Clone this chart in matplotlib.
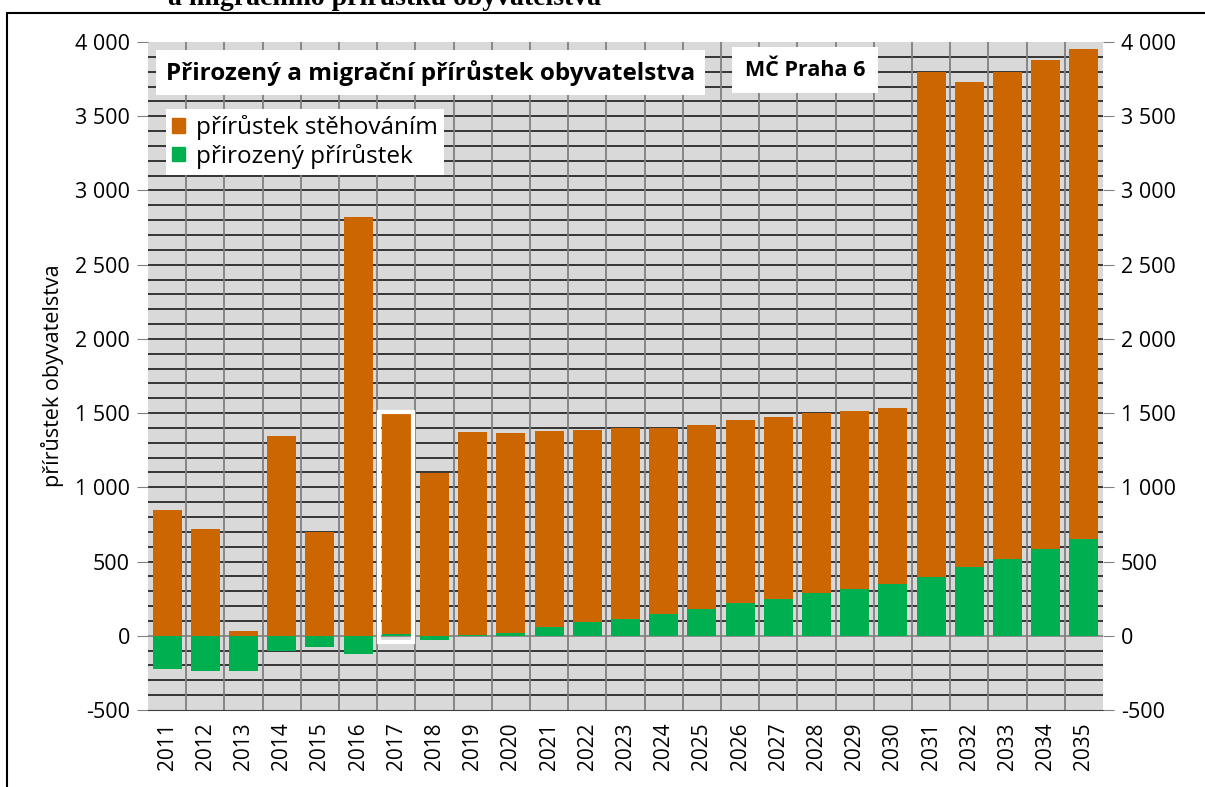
#!/usr/bin/env python3
import matplotlib
matplotlib.use('Agg')
import matplotlib.pyplot as plt
from matplotlib.patches import Rectangle, Patch
import numpy as np

years = [str(y) for y in range(2011, 2036)]
# natural increase (green)
natural = [-225, -234, -234, -101, -76, -123, 10, -30, 3, 22, 59, 92, 115, 150, 182,
           218, 249, 285, 317, 352, 393, 460, 517, 584, 652]
# migration increase (orange)
migration = [849, 719, 34, 1348, 697, 2823, 1495, 1097, 1367, 1344, 1322, 1296, 1283, 1252, 1238,
             1237, 1226, 1213, 1198, 1183, 3403, 3268, 3281, 3295, 3301]

orange = '#CC6600'
green = '#00B050'
font = ['Open Sans', 'DejaVu Sans']
plt.rcParams['font.family'] = font

fig = plt.figure(figsize=(12.05, 7.87), dpi=100)
ax = fig.add_axes([148/1205, 1-710/787, 955/1205, 668/787])
ax.set_facecolor('#D9D9D9')

x = np.arange(len(years))
nat = np.array(natural)
mig = np.array(migration)
w = 0.76
ax.bar(x, nat, width=w, color=green, zorder=3)
ax.bar(x, mig, width=w, bottom=np.maximum(nat, 0), color=orange, zorder=3)
# selected bar 2017 outline
i17 = years.index('2017')
ax.bar(x[i17], mig[i17] + nat[i17] + 45, width=w + 0.12, bottom=-40, fill=False,
       edgecolor='white', linewidth=3, zorder=4)

ax.set_xlim(-0.5, len(years) - 0.5)
ax.set_ylim(-500, 4000)

# grid
for v in range(-400, 4000, 100):
    ax.axhline(v, color='#7F7F7F' if v == 0 else '#1A1A1A', lw=1.2, zorder=1)
for b in np.arange(0.5, len(years) - 0.5, 1):
    ax.axvline(b, color='#808080', lw=1.3, zorder=1.5)

ticks = list(range(-500, 4001, 500))
labels = ['{:,}'.format(t).replace(',', ' ') for t in ticks]
ax.set_yticks(ticks)
ax.set_yticklabels(labels, fontsize=15.5)
ax.tick_params(axis='y', length=8, color='#808080', pad=5)
ax.set_xticks(x)
ax.set_xticklabels(years, rotation=90, fontsize=15)
ax.tick_params(axis='x', length=0, pad=9)
for s in ax.spines.values():
    s.set_visible(False)
ax.spines['bottom'].set_visible(True)
ax.spines['bottom'].set_color('#404040')

ax2 = ax.twinx()
ax2.set_ylim(-500, 4000)
ax2.set_yticks(ticks)
ax2.set_yticklabels(labels, fontsize=15.5)
ax2.tick_params(axis='y', length=8, color='#808080', pad=5)
for s in ax2.spines.values():
    s.set_visible(False)

ax.set_ylabel('přírůstek obyvatelstva', fontsize=15.5, labelpad=8)

ax.text(0.019, 0.954, 'Přirozený a migrační přírůstek obyvatelstva', transform=ax.transAxes,
        fontsize=17.5, fontweight='bold', va='center', ha='left', zorder=6,
        bbox=dict(facecolor='white', edgecolor='none', boxstyle='square,pad=0.4'))
ax.text(0.625, 0.958, 'MČ Praha 6', transform=ax.transAxes,
        fontsize=15.5, fontweight='bold', va='center', ha='left', zorder=6,
        bbox=dict(facecolor='white', edgecolor='none', boxstyle='square,pad=0.6'))

handles = [Patch(color=orange, label='přírůstek stěhováním'),
           Patch(color=green, label='přirozený přírůstek')]
leg = ax.legend(handles=handles, loc='upper left', bbox_to_anchor=(0.006, 0.918),
                fontsize=17.5, frameon=True, fancybox=False, framealpha=1,
                handlelength=0.55, handleheight=0.55, handletextpad=0.45, borderpad=0.25,
                labelspacing=0.15)
leg.get_frame().set_edgecolor('none')
leg.set_zorder(6)

# outer frame and cut title
fig.patches.append(Rectangle((7/1205, -0.1), 1.2, 1 - 13/787 + 0.1, transform=fig.transFigure,
                             fill=False, edgecolor='black', lw=1.5))
fig.text(385/1205, 1 + 2/787, 'a migračního přírůstku obyvatelstva', ha='center', va='center',
         fontsize=20, fontweight='bold', family='Liberation Serif')

fig.savefig('out.png', dpi=100)
